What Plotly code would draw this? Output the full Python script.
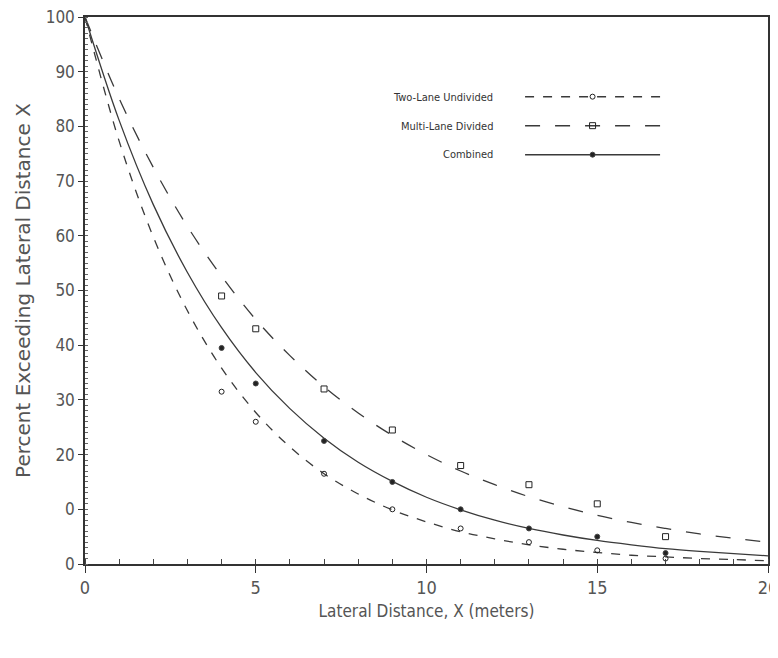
import plotly.graph_objects as go

# ---- data ----
obs_x = [4, 5, 7, 9, 11, 13, 15, 17]
two_lane_pts = [31.5, 26, 16.5, 10, 6.5, 4, 2.5, 1]
multi_lane_pts = [49, 43, 32, 24.5, 18, 14.5, 11, 5]
combined_pts = [39.5, 33, 22.5, 15, 10, 6.5, 5, 2]

curve_x = list(range(0, 21))
two_lane_curve = [100, 77.3, 59.8, 46.3, 35.8, 27.7, 21.4, 16.5, 12.8, 9.9, 7.7,
                  5.9, 4.6, 3.5, 2.7, 2.1, 1.6, 1.3, 1.0, 0.8, 0.6]
multi_lane_curve = [100, 85.1, 72.5, 61.7, 52.6, 44.7, 38.1, 32.4, 27.6, 23.5, 20.0,
                    17.0, 14.5, 12.3, 10.5, 8.9, 7.6, 6.5, 5.5, 4.7, 4.0]
combined_curve = [100, 81.1, 65.7, 53.3, 43.2, 35.0, 28.4, 23.0, 18.6, 15.1, 12.2,
                  9.9, 8.0, 6.5, 5.3, 4.3, 3.5, 2.8, 2.3, 1.9, 1.5]

series_names = ["Two-Lane Undivided", "Multi-Lane Divided", "Combined"]
y_tickvals = [0, 10, 20, 30, 40, 50, 60, 70, 80, 90, 100]
y_ticktext = ["0", "0", "20", "30", "40", "50", "60", "70", "80", "90", "100"]
x_tickvals = [0, 5, 10, 15, 20]
x_ticktext = ["0", "5", "10", "15", "20"]

LINE = "#3a3a3a"
COND = "DejaVu Sans Condensed, DejaVu Sans"
series = [
    (series_names[0], two_lane_curve, two_lane_pts, "dash", "circle-open", 5),
    (series_names[1], multi_lane_curve, multi_lane_pts, "longdash", "square-open", 6),
    (series_names[2], combined_curve, combined_pts, "solid", "circle", 5),
]

fig = go.Figure()
for name, curve, pts, dash, sym, ms in series:
    fig.add_trace(go.Scatter(x=curve_x, y=curve, mode="lines", line_shape="spline",
                             line=dict(color=LINE, width=1.3, dash=dash),
                             showlegend=False, hoverinfo="skip"))
    fig.add_trace(go.Scatter(x=obs_x, y=pts, mode="markers",
                             marker=dict(symbol=sym, size=ms, color="#222",
                                         line=dict(color="#444", width=1)),
                             showlegend=False, name=name))
# legend samples (no data)
for name, curve, pts, dash, sym, ms in series:
    fig.add_trace(go.Scatter(x=[None], y=[None], mode="lines+markers", name=" ",
                             line=dict(color=LINE, width=1.5, dash=dash),
                             marker=dict(symbol=sym, size=ms, color="#222",
                                         line=dict(color="#444", width=1))))

label_y = [0.852, 0.799, 0.748]
for name, yy in zip(series_names, label_y):
    fig.add_annotation(text=name, xref="paper", yref="paper", x=0.60, y=yy,
                       xanchor="right", yanchor="middle", showarrow=False,
                       font=dict(family=COND, size=11, color="#333"))

fig.update_layout(
    width=770, height=650,
    margin=dict(l=77, r=10, t=9, b=94),
    paper_bgcolor="white", plot_bgcolor="white",
    showlegend=True,
    legend=dict(x=0.637, y=0.89, xanchor="left", yanchor="top",
                itemwidth=135, font=dict(size=20), bgcolor="rgba(0,0,0,0)",
                tracegroupgap=0),
    xaxis=dict(range=[0, 20], tickvals=x_tickvals, ticktext=x_ticktext,
               automargin=False, ticklabeloverflow="allow",
               showgrid=False, zeroline=False, showline=True, linecolor="#333",
               linewidth=1.5, mirror=True, ticks="outside", ticklen=7,
               tickcolor="#333", tickfont=dict(family=COND, size=18, color="#555"),
               minor=dict(ticks="inside", dtick=1, ticklen=5, tickcolor="#444"),
               title=dict(text="Lateral Distance, X (meters)", standoff=8,
                          font=dict(family=COND, size=17, color="#555"))),
    yaxis=dict(range=[0, 100], tickvals=y_tickvals, ticktext=y_ticktext,
               automargin=False, ticklabeloverflow="allow",
               showgrid=False, zeroline=False, showline=True, linecolor="#333",
               linewidth=1.5, mirror=True, ticks="outside", ticklen=5,
               tickcolor="#333", tickfont=dict(family=COND, size=17, color="#555"),
               minor=dict(ticks="inside", dtick=1, ticklen=3, tickcolor="#666"),
               title=dict(text="Percent Exceeding Lateral Distance X", standoff=10,
                          font=dict(family="DejaVu Sans", size=20, color="#555"))),
)
fig.write_html("out.html")
